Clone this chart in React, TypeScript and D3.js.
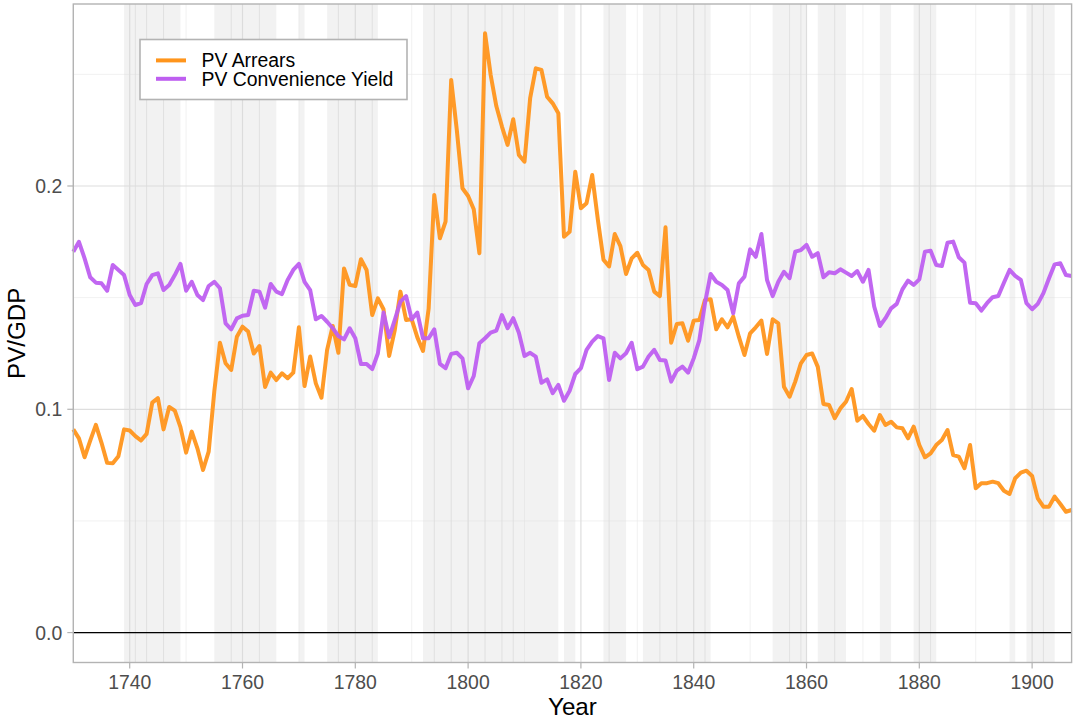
import React from "react";
import * as d3 from "d3";

const startYear = 1730;
const endYear = 1907;

const pvArrears = [
  0.091, 0.087, 0.0785, 0.086, 0.093, 0.085, 0.076, 0.0758, 0.079, 0.091,
  0.0905, 0.088, 0.086, 0.089, 0.103, 0.105, 0.091, 0.101, 0.0994, 0.092,
  0.0806, 0.09, 0.0825, 0.0728, 0.081, 0.108, 0.1298, 0.1206, 0.1176, 0.1325,
  0.137, 0.1348, 0.125, 0.1283, 0.11, 0.1164, 0.1131, 0.1161, 0.1139, 0.1164,
  0.1367, 0.1104, 0.1236, 0.1116, 0.1052, 0.1266, 0.1373, 0.1253, 0.1631, 0.1557,
  0.1552, 0.1672, 0.1624, 0.1422, 0.1497, 0.1448, 0.1239, 0.1355, 0.1527, 0.14,
  0.1403, 0.1322, 0.1261, 0.145, 0.196, 0.1766, 0.184, 0.2475, 0.225, 0.199,
  0.1955, 0.1896, 0.1699, 0.2684, 0.2497, 0.2358, 0.2266, 0.2184, 0.2299, 0.2139,
  0.2109, 0.2393, 0.2527, 0.252, 0.24, 0.237, 0.2326, 0.1773, 0.1795, 0.2064,
  0.19, 0.1923, 0.2049, 0.185, 0.167, 0.164, 0.1785, 0.1731, 0.1606, 0.1676,
  0.1701, 0.1646, 0.1624, 0.1527, 0.1507, 0.1815, 0.1298, 0.1382, 0.1385, 0.1307,
  0.1397, 0.14, 0.149, 0.1493, 0.1358, 0.1403, 0.1367, 0.1415, 0.1325, 0.1243,
  0.134, 0.1367, 0.1397, 0.1248, 0.1403, 0.1385, 0.1101, 0.1056, 0.1124, 0.1206,
  0.1243, 0.125, 0.119, 0.1024, 0.1019, 0.096, 0.1004, 0.1034, 0.1091, 0.0949,
  0.097, 0.0934, 0.0904, 0.0974, 0.093, 0.0944, 0.0919, 0.0915, 0.087, 0.0922,
  0.084, 0.0785, 0.0803, 0.084, 0.0862, 0.0907, 0.0795, 0.0788, 0.0736, 0.084,
  0.0646, 0.0669, 0.0669, 0.0676, 0.0669, 0.0635, 0.0621, 0.0691, 0.0716, 0.0725,
  0.0701, 0.0601, 0.0564, 0.0564, 0.0609, 0.0576, 0.0541, 0.0549,
];

const pvConvenience = [
  0.1706, 0.175, 0.1676, 0.1591, 0.1567, 0.1564, 0.1531, 0.1646, 0.1624, 0.1601,
  0.1512, 0.1467, 0.1475, 0.1561, 0.1601, 0.1609, 0.1534, 0.1557, 0.1601, 0.1651,
  0.1531, 0.1571, 0.1512, 0.1489, 0.1552, 0.1571, 0.1542, 0.1385, 0.1358, 0.1407,
  0.1419, 0.1422, 0.1531, 0.1527, 0.1455, 0.1561, 0.1527, 0.1516, 0.1579, 0.1624,
  0.1651, 0.1571, 0.1534, 0.1403, 0.1418, 0.1392, 0.1363, 0.1328, 0.1313, 0.1363,
  0.1318, 0.1203, 0.1203, 0.118, 0.125, 0.1433, 0.1322, 0.14, 0.1482, 0.1507,
  0.1403, 0.1433, 0.1318, 0.1318, 0.1358, 0.1203, 0.1184, 0.1248, 0.1253, 0.1228,
  0.1094, 0.1149, 0.1296, 0.1318, 0.1343, 0.1352, 0.1422, 0.1363, 0.1408, 0.1343,
  0.1239, 0.1253, 0.1236, 0.1119, 0.1134, 0.1072, 0.1109, 0.1038, 0.1083, 0.1158,
  0.1184, 0.1266, 0.1303, 0.1328, 0.1318, 0.1131, 0.1253, 0.1228, 0.1251, 0.1298,
  0.1179, 0.1191, 0.1236, 0.1266, 0.1221, 0.1218, 0.1124, 0.1173, 0.1191, 0.1164,
  0.1228, 0.131, 0.1475, 0.1606, 0.1571, 0.1557, 0.1534, 0.143, 0.1564, 0.1594,
  0.1716, 0.1683, 0.1785, 0.1579, 0.1507, 0.1571, 0.1616, 0.1587, 0.1706, 0.1713,
  0.1736, 0.1683, 0.1699, 0.1591, 0.1614, 0.1609, 0.1627, 0.1612, 0.1597, 0.1619,
  0.1571, 0.1624, 0.146, 0.1373, 0.1408, 0.1452, 0.1472, 0.1537, 0.1576, 0.1557,
  0.1582, 0.1706, 0.171, 0.1646, 0.1642, 0.1746, 0.1751, 0.1681, 0.1657, 0.1477,
  0.1475, 0.1442, 0.1475, 0.1502, 0.1507, 0.1567, 0.1624, 0.1597, 0.1579, 0.1475,
  0.1448, 0.1472, 0.152, 0.1587, 0.1649, 0.1654, 0.1601, 0.1597,
];

const bandStarts = [1739, 1755, 1770, 1775, 1792, 1817, 1824, 1831, 1854, 1862, 1873, 1879, 1896, 1899];
const bandEnds = [1749, 1766, 1771, 1784, 1816, 1819, 1828, 1843, 1860, 1867, 1875, 1883, 1897, 1904];
const bandSeams = [1741, 1743, 1746, 1758, 1763, 1777, 1783, 1794, 1797, 1803, 1806, 1808, 1825, 1834, 1837, 1842, 1857, 1859, 1865, 1882, 1902];

const xMajorTicks = [1740, 1760, 1780, 1800, 1820, 1840, 1860, 1880, 1900];
const xMinorTicks = [1730, 1750, 1770, 1790, 1810, 1830, 1850, 1870, 1890];
const yMajorTicks = [0.0, 0.1, 0.2];
const yMinorTicks = [0.05, 0.15, 0.25];

const seriesNames = ["PV Arrears", "PV Convenience Yield"];
const seriesColors = ["#FF951C", "#BE5FF0"];

const W = 1074;
const H = 720;
const panel = { left: 73.3, right: 1071.6, top: 4, bottom: 662.5 };
const FONT = "'Liberation Sans', Arial, Helvetica, sans-serif";
const TICK_FS = 19.4;
const TITLE_FS = 24.2;
const TICK_LEN = 6;

export default function App() {
  const x = d3.scaleLinear().domain([startYear, endYear]).range([panel.left, panel.right]);
  const y = d3.scaleLinear().domain([-0.0134, 0.2815]).range([panel.bottom, panel.top]);

  const series = [pvArrears, pvConvenience];
  const line = d3
    .line<number>()
    .x((_, i) => x(startYear + i))
    .y((d) => y(d));

  return (
    <svg
      width={W}
      height={H}
      style={{ position: "absolute", left: 0, top: 0, background: "#fff" }}
      fontFamily={FONT}
    >
      <rect x={0} y={0} width={W} height={H} fill="#fff" />
      {/* minor grid */}
      {xMinorTicks.map((t) => (
        <line key={"xm" + t} x1={x(t)} x2={x(t)} y1={panel.top} y2={panel.bottom} stroke="#ebebeb" strokeWidth={0.7} />
      ))}
      {yMinorTicks.map((t) => (
        <line key={"ym" + t} x1={panel.left} x2={panel.right} y1={y(t)} y2={y(t)} stroke="#ebebeb" strokeWidth={0.7} />
      ))}
      {/* major grid */}
      {xMajorTicks.map((t) => (
        <line key={"xM" + t} x1={x(t)} x2={x(t)} y1={panel.top} y2={panel.bottom} stroke="#dedede" strokeWidth={1.2} />
      ))}
      {yMajorTicks.map((t) => (
        <line key={"yM" + t} x1={panel.left} x2={panel.right} y1={y(t)} y2={y(t)} stroke="#dedede" strokeWidth={1.2} />
      ))}
      {/* shaded bands */}
      {bandStarts.map((s, i) => (
        <rect
          key={"b" + i}
          x={x(s)}
          y={panel.top}
          width={x(bandEnds[i]) - x(s)}
          height={panel.bottom - panel.top}
          fill="#d9d9d9"
          fillOpacity={0.35}
        />
      ))}
      {bandSeams.map((s) => (
        <line key={"s" + s} x1={x(s)} x2={x(s)} y1={panel.top} y2={panel.bottom} stroke="#dcdcdc" strokeWidth={0.8} />
      ))}
      {/* zero line */}
      <line x1={panel.left} x2={panel.right} y1={y(0)} y2={y(0)} stroke="#000" strokeWidth={1.1} />
      {/* series */}
      {series.map((s, i) => (
        <path key={"l" + i} d={line(s) || ""} fill="none" stroke={seriesColors[i]} strokeWidth={4} strokeLinejoin="round" strokeOpacity={0.95} />
      ))}
      {/* panel border */}
      <rect
        x={panel.left}
        y={panel.top}
        width={panel.right - panel.left}
        height={panel.bottom - panel.top}
        fill="none"
        stroke="#b3b3b3"
        strokeWidth={1.4}
      />
      {/* x axis ticks & labels */}
      {xMajorTicks.map((t) => (
        <g key={"xt" + t}>
          <line x1={x(t)} x2={x(t)} y1={panel.bottom} y2={panel.bottom + TICK_LEN} stroke="#b3b3b3" strokeWidth={1.2} />
          <text x={x(t)} y={panel.bottom + 26.5} textAnchor="middle" fontSize={TICK_FS} fill="#4d4d4d">
            {t}
          </text>
        </g>
      ))}
      {/* y axis ticks & labels */}
      {yMajorTicks.map((t) => (
        <g key={"yt" + t}>
          <line x1={panel.left - TICK_LEN} x2={panel.left} y1={y(t)} y2={y(t)} stroke="#b3b3b3" strokeWidth={1.2} />
          <text x={panel.left - 11} y={y(t) + 7} textAnchor="end" fontSize={TICK_FS} fill="#4d4d4d">
            {d3.format(".1f")(t)}
          </text>
        </g>
      ))}
      {/* axis titles */}
      <text x={(panel.left + panel.right) / 2} y={714.5} textAnchor="middle" fontSize={TITLE_FS} fill="#000">
        Year
      </text>
      <text
        transform={`translate(${24.5},${(panel.top + panel.bottom) / 2}) rotate(-90)`}
        textAnchor="middle"
        fontSize={TITLE_FS}
        fill="#000"
      >
        PV/GDP
      </text>
      {/* legend */}
      <g>
        <rect x={140} y={39.5} width={267} height={60} fill="#fff" stroke="#b3b3b3" strokeWidth={1.6} />
        {seriesNames.map((n, i) => (
          <g key={"lg" + i}>
            <line x1={156} x2={186} y1={60.4 + i * 18.4} y2={60.4 + i * 18.4} stroke={seriesColors[i]} strokeWidth={4} />
            <text x={201.5} y={60.4 + i * 18.4 + 7} fontSize={TICK_FS} fill="#000">
              {n}
            </text>
          </g>
        ))}
      </g>
    </svg>
  );
}
